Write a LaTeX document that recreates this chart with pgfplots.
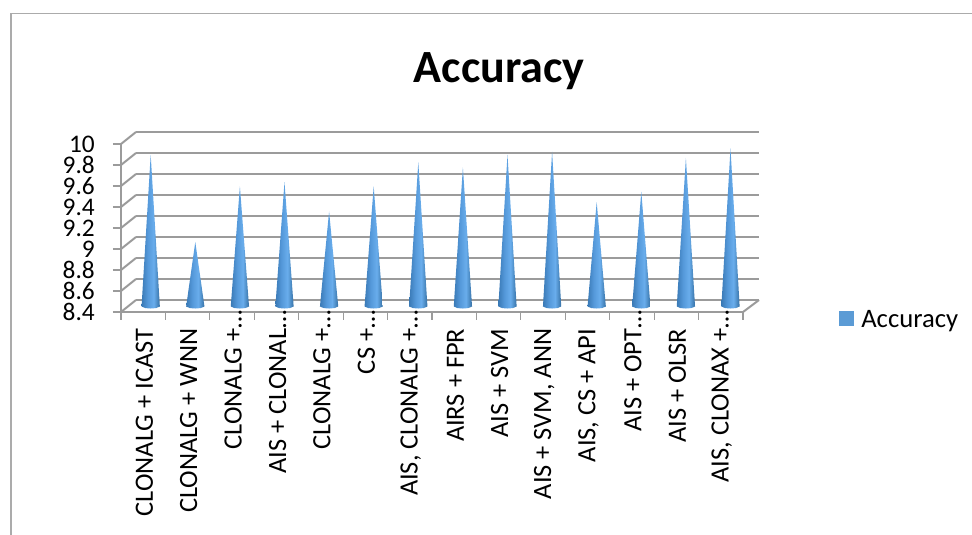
\documentclass[border=0pt]{standalone}
\usepackage{fontspec}
\setmainfont{Carlito}
\usepackage{pgfplots}
\usepackage{pgfplotstable}
\pgfplotsset{compat=1.18}

\definecolor{gridgray}{HTML}{9B9B9B}
\definecolor{framegray}{HTML}{ABABAB}
\definecolor{legblue}{HTML}{5B9BD5}
\definecolor{conea}{HTML}{3A7AB6}
\definecolor{coneb}{HTML}{5599DA}
\definecolor{conec}{HTML}{69ADEC}
\definecolor{coned}{HTML}{3570A4}
% side of the cone: dark edges, light a bit right of the middle
\pgfdeclarehorizontalshading{conefill}{100bp}{
  color(0bp)=(conea); color(25bp)=(conea); color(42bp)=(coneb);
  color(58bp)=(conec); color(75bp)=(coned); color(100bp)=(coned)}

% cut-off labels: the dots stick out past the label's end
\newcommand{\cut}{\rlap{…}}

\pgfplotstableread{
x    v
0.5  9.84
1.5  9.01
2.5  9.54
3.5  9.58
4.5  9.30
5.5  9.54
6.5  9.77
7.5  9.72
8.5  9.84
9.5  9.87
10.5 9.39
11.5 9.49
12.5 9.81
13.5 9.90
}\acctable

\begin{document}
\frenchspacing
\begin{tikzpicture}[x=0.75pt,y=0.75pt]
% 1 unit = 1 px of the reference, origin bottom left
\path[use as bounding box] (0,0) rectangle (972,535);
\draw[framegray,line width=1.4pt] (11,0) -- (11,521.5) -- (972,521.5);

% back wall
\begin{axis}[
  at={(0pt,0pt)}, anchor=south west, xshift=102pt, yshift=176.25pt,
  scale only axis, width=467.25pt, height=126pt,
  xmin=0, xmax=14, ymin=8.4, ymax=10,
  ytick={8.4,8.6,8.8,9,9.2,9.4,9.6,9.8,10}, xtick=\empty, yticklabels={},
  major tick length=0pt,
  ymajorgrids, grid style={gridgray,line width=1.5pt},
  axis line style={draw=none},
]
\addplot[draw=none] coordinates {(0,8.4) (14,10)};
\end{axis}

% front plane, ticks and labels
\begin{axis}[
  at={(0pt,0pt)}, anchor=south west, xshift=90.75pt, yshift=167.25pt,
  scale only axis, width=466.5pt, height=126pt,
  xmin=0, xmax=14, ymin=8.4, ymax=10,
  axis x line*=bottom, axis y line*=left,
  axis line style={gridgray,line width=1.5pt,-},
  tick style={gridgray,line width=0.9pt},
  tick align=outside,
  ytick={8.4,8.6,8.8,9,9.2,9.4,9.6,9.8,10},
  yticklabels={8.4,8.6,8.8,9,9.2,9.4,9.6,9.8,10},
  yticklabel style={font=\fontsize{19}{19}\selectfont,inner sep=0pt,xshift=-13.5pt},
  major tick length=6pt, minor tick length=6pt,
  xtick={0.5,1.5,...,13.5},
  major x tick style={draw=none},
  minor xtick={0,1,...,14},
  xticklabels={CLONALG + ICAST,CLONALG + WNN,CLONALG +\cut,AIS + CLONAL\cut,CLONALG +\cut,CS +\cut,{AIS, CLONALG +\cut},AIRS + FPR,AIS + SVM,{AIS + SVM, ANN},{AIS, CS + API},AIS + OPT\cut,AIS + OLSR,{AIS, CLONAX +\cut}},
  xticklabel style={xshift=0.8pt,rotate=90,anchor=east,font=\fontsize{19.8}{19.8}\selectfont},
  xticklabel shift=3pt,
  /pgf/number format/assume math mode=true,
  title={\bfseries Accuracy},
  title style={at={(0.608,1.388)},anchor=center,font=\fontsize{34.6}{34.6}\selectfont},
  clip=false,
]
\addplot[draw=none] coordinates {(0,8.4) (14,10)};
% side wall and floor edges
\pgfplotsinvokeforeach{8.4,8.6,8.8,9,9.2,9.4,9.6,9.8,10}{
  \draw[gridgray,line width=1.5pt] (axis cs:0,#1) -- ++(11.25pt,9pt);
}
\draw[gridgray,line width=1.5pt] (axis cs:14,8.4) -- ++(12pt,9pt);
\end{axis}

% cones
\begin{axis}[
  at={(0pt,0pt)}, anchor=south west, xshift=96.3pt, yshift=171.75pt,
  scale only axis, width=468.3pt, height=126pt,
  xmin=0, xmax=14, ymin=8.4, ymax=10,
  axis lines=none, clip=false,
  legend style={draw=none,fill=none,at={(1.105,-0.082)},anchor=west,
    font=\fontsize{20}{20}\selectfont},
]
\pgfplotsforeachungrouped \i in {0,...,13}{
  \pgfplotstablegetelem{\i}{x}\of\acctable \let\cx\pgfplotsretval
  \pgfplotstablegetelem{\i}{v}\of\acctable \let\cv\pgfplotsretval
  \pgfmathsetmacro\xl{\cx-0.205}
  \pgfmathsetmacro\xr{\cx+0.205}
  \pgfmathsetmacro\xa{\cx-0.12}
  \pgfmathsetmacro\xb{\cx+0.12}
  \edef\temp{\noexpand\addplot[shade,shading=conefill,draw=none,forget plot] coordinates
    {(\xl,8.395) (\cx,\cv) (\xr,8.395) (\xb,8.38) (\cx,8.376) (\xa,8.38)} -- cycle;}
  \temp
}
\addlegendimage{legend image code/.code={
  \fill[legblue,draw=none] (12pt,-4.5pt) rectangle (23.25pt,6.8pt);
  \path[draw=none] (0pt,0pt) -- (27pt,0pt);
}}
\addlegendentry{Accuracy}
\end{axis}
\end{tikzpicture}
\end{document}
